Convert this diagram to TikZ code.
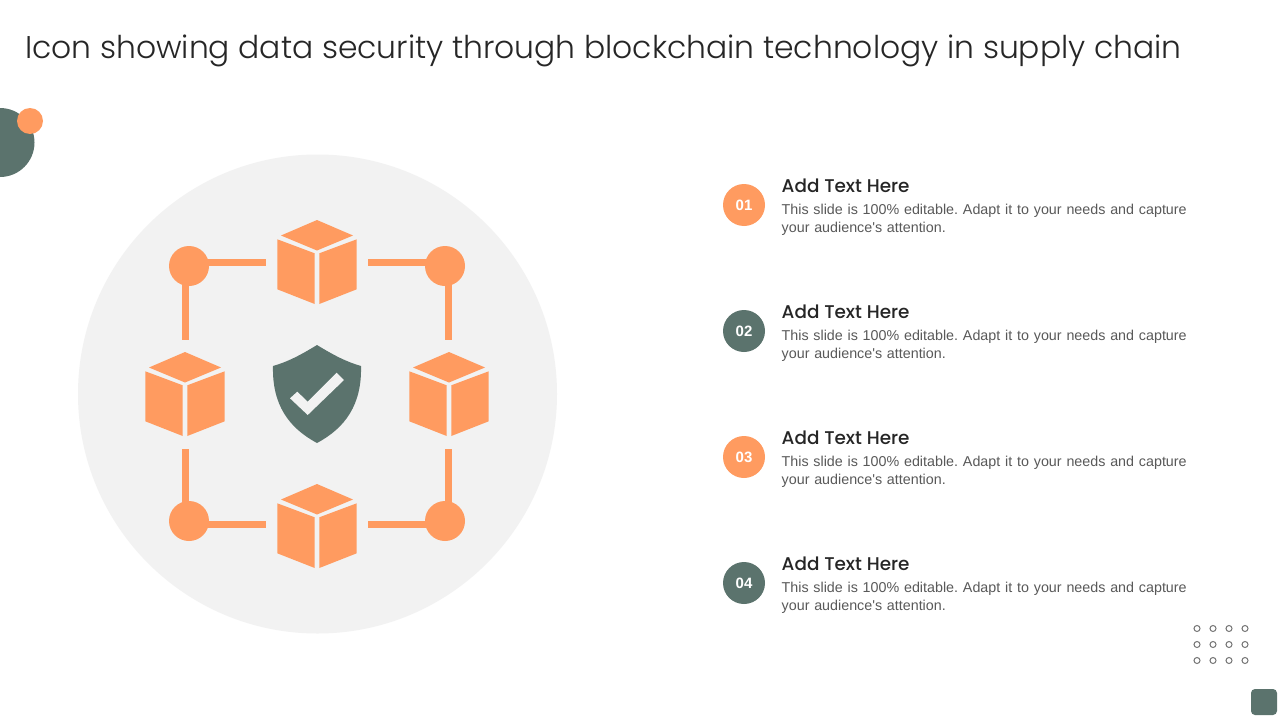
\documentclass[tikz,border=0pt]{standalone}
\usepackage{fontspec}
\setmainfont{Liberation Sans}
\newfontfamily\titlefont{Poppins Light}
\newfontfamily\headfont{Poppins Medium}
\definecolor{orng}{HTML}{FF9B60}
\definecolor{grn}{HTML}{5B736D}
\definecolor{pale}{HTML}{F2F2F2}
\definecolor{ink}{HTML}{262626}
\definecolor{body}{HTML}{595959}
\tikzset{
  link/.style={draw=orng,line width=7pt},
  hub/.style={circle,fill=orng,draw=none,minimum size=40pt,inner sep=0pt},
  badge/.style={circle,draw=none,minimum size=42pt,inner sep=0pt,text=white,font=\fontsize{15}{15}\selectfont\bfseries},
  headtext/.style={anchor=west,inner sep=0pt,text=ink,font=\headfont\fontsize{18.4}{20}\selectfont},
  bodytext/.style={anchor=north west,inner sep=0pt,text=body,text width=405pt,align=left,font=\fontsize{14.3}{18}\selectfont},
  dotm/.style={circle,draw=black!55,line width=1pt,minimum size=6pt,inner sep=0pt},
  cube/.pic={
    \fill[orng] (0,-42)--(36,-26.5)--(0,-11.5)--(-36,-26.5)--cycle;
    \fill[orng] (-39.7,-22.7)--(-2.3,-8.7)--(-2.3,42)--(-39.7,27.3)--cycle;
    \fill[orng] (39.7,-22.7)--(2.3,-8.7)--(2.3,42)--(39.7,27.3)--cycle;
  }
}
\newcommand{\bodycopy}{\makebox[405pt][s]{This slide is 100\% editable.\hfil\ \hfil Adapt\hfil\ it\hfil\ to\hfil\ your\hfil\ needs\hfil\ and\hfil\ capture}\\your audience\textquotesingle s attention.}
\begin{document}
\begin{tikzpicture}[x=1pt,y=-1pt]
\useasboundingbox (0,0) rectangle (1280,720);
\fill[white] (0,0) rectangle (1280,720);
\node[anchor=west,inner sep=0pt,text=ink,font=\titlefont\fontsize{31.4}{36}\selectfont] (title) at (25,50.5) {Icon showing data security through blockchain technology in supply chain};
% corner decoration
\begin{scope}
\clip (0,90) rectangle (60,190);
\fill[grn] (0,142.5) circle (34.5);
\end{scope}
\node[circle,fill=orng,minimum size=26pt,inner sep=0pt] (cornerdot) at (30,121) {};
% backdrop
\node[circle,fill=pale,minimum size=479pt,inner sep=0pt] (disc) at (317.5,394) {};
% hubs and cubes
\node[hub] (h1) at (189,266) {};
\node[hub] (h2) at (445,266) {};
\node[hub] (h3) at (189,521) {};
\node[hub] (h4) at (445,521) {};
\coordinate (a1) at (266,262); \coordinate (a2) at (368,262);
\coordinate (a3) at (185.5,340); \coordinate (a4) at (448.5,340);
\coordinate (a5) at (185.5,449); \coordinate (a6) at (448.5,449);
\coordinate (a7) at (266,524); \coordinate (a8) at (368,524);
\draw[link] (h1.center |- a1) -- (a1);
\draw[link] (a2) -- (h2.center |- a2);
\draw[link] (a3 |- h1.center) -- (a3);
\draw[link] (a4 |- h2.center) -- (a4);
\draw[link] (a5) -- (a5 |- h3.center);
\draw[link] (a6) -- (a6 |- h4.center);
\draw[link] (h3.center |- a7) -- (a7);
\draw[link] (a8) -- (h4.center |- a8);
\pic at (317,262) {cube};
\pic at (185,394) {cube};
\pic at (449,394) {cube};
\pic at (317,526) {cube};
% shield
\fill[grn] (317,345) .. controls (335,356) and (347,362) .. (361,366)
  .. controls (362,405) and (345,428) .. (317,443)
  .. controls (289,428) and (272,405) .. (273,366)
  .. controls (287,362) and (299,356) .. (317,345) -- cycle;
\fill[pale] (290,398.3)--(297.3,391.7)--(307.7,401.7)--(336.7,372.7)--(344,380)--(307.7,415)--cycle;
% list
\foreach \n/\c/\y in {01/orng/205,02/grn/331,03/orng/457,04/grn/583}{
  \node[badge,fill=\c] (b\n) at (744,\y) {\n};
  \node[headtext] (t\n) at (781.5,\y-19.5) {Add Text Here};
  \node[bodytext] (d\n) at (781.5,\y-1) {\bodycopy};
}
% dots
\foreach \i in {0,1,2,3}{\foreach \j in {0,1,2}{
  \node[dotm] (m\i\j) at (1197+16*\i,628.5+16*\j) {};
}}
\node[rounded corners=4pt,fill=grn,minimum size=26pt,inner sep=0pt] (sq) at (1264,702) {};
\end{tikzpicture}
\end{document}
